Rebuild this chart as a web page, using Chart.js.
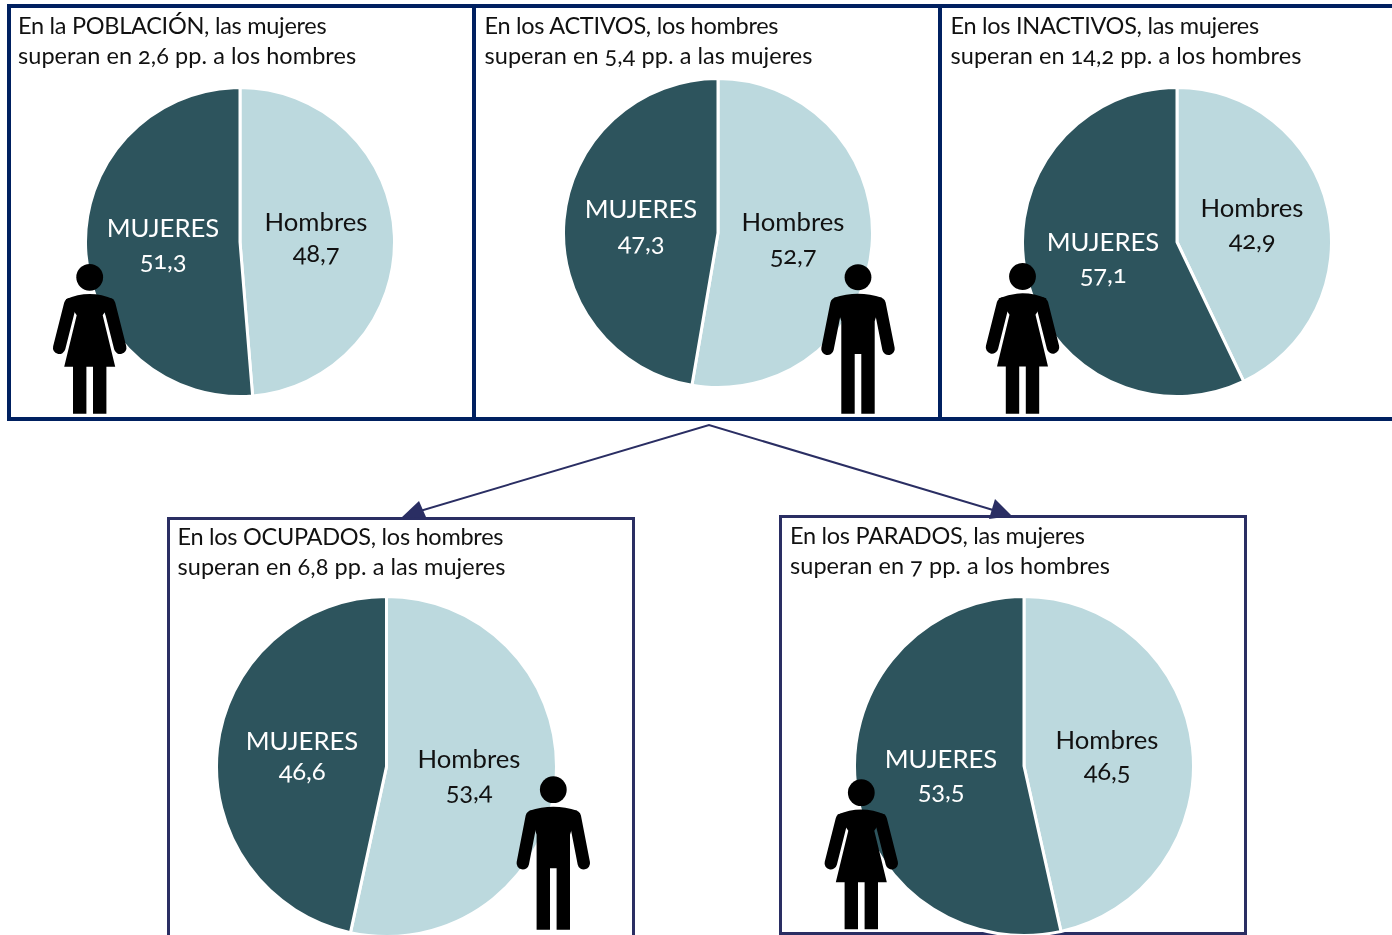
<!DOCTYPE html>
<html><head><meta charset="utf-8">
<script src="https://cdn.jsdelivr.net/npm/chart.js@4"></script>
<style>
html,body{margin:0;padding:0;background:#fff;width:1392px;height:935px;overflow:hidden}
body{position:relative;font-family:Lato,"Open Sans",sans-serif;font-feature-settings:"onum";font-variant-numeric:oldstyle-nums}
.frame{position:absolute;box-sizing:border-box;background:transparent}
.frame.top{border:4px solid #002060}
.frame.bot{border:3px solid #2A2E63}
canvas{position:absolute}
.t{position:absolute;white-space:nowrap;font-size:23.5px;line-height:30px;color:#111}
.t span{display:block}
.t span:first-child{letter-spacing:-0.28px}
.t span:last-child{letter-spacing:0.05px}
.l{position:absolute;white-space:nowrap;font-size:25.7px;line-height:30px;transform:translate(-50%,-50%);text-align:center}
.l.n{letter-spacing:-0.2px}
svg{position:absolute;left:0;top:0}
</style></head><body>
<svg width="1392" height="935" style="z-index:1">
  <polyline points="420,511 709,425 993,510" fill="none" stroke="#2A2E63" stroke-width="2"/>
  <polygon points="401,518 419,501 426,517" fill="#2A2E63"/>
  <polygon points="989,519 995,499 1012,516" fill="#2A2E63"/>
</svg>
<script>
const categories = ['Hombres', 'MUJERES'];
const poblacion = [48.7, 51.3];
const activos = [52.7, 47.3];
const inactivos = [42.9, 57.1];
const ocupados = [53.4, 46.6];
const parados = [46.5, 53.5];
const titlePoblacion = ['En la POBLACIÓN, las mujeres', 'superan en 2,6 pp. a los hombres'];
const titleActivos = ['En los ACTIVOS, los hombres', 'superan en 5,4 pp. a las mujeres'];
const titleInactivos = ['En los INACTIVOS, las mujeres', 'superan en 14,2 pp. a los hombres'];
const titleOcupados = ['En los OCUPADOS, los hombres', 'superan en 6,8 pp. a las mujeres'];
const titleParados = ['En los PARADOS, las mujeres', 'superan en 7 pp. a los hombres'];
const colors = ['#BCD9DE', '#2D545D'];

const panels = [
 {values:poblacion,title:titlePoblacion,cx:240,cy:242,size:312,tx:18,ty:10,
  lab:[[316,221,251.5],[163,227,258.5]],fig:['w',89.7,277.3,1],frame:[7,4,469,417,'top']},
 {values:activos,title:titleActivos,cx:718,cy:233,size:312,tx:484.5,ty:10,
  lab:[[793,221,253.5],[641,208,240.5]],fig:['m',858,277.3,0.975],frame:[472,4,470,417,'top']},
 {values:inactivos,title:titleInactivos,cx:1177,cy:242,size:312,tx:950.5,ty:10,
  lab:[[1252,207,238.5],[1103,241,272.5]],fig:['w',1022.5,276.5,1.005],frame:[938,4,470,417,'top']},
 {values:ocupados,title:titleOcupados,cx:386.5,cy:767,size:343,tx:177.5,ty:521,
  lab:[[469,758,790],[302,740,770]],fig:['m',553.3,789.7,1],frame:[167,517,468,440,'bot']},
 {values:parados,title:titleParados,cx:1024,cy:766,size:342,tx:790,ty:520,
  lab:[[1107,739,769.5],[941,758,789]],fig:['w',861.3,792.7,1],frame:[779,515,468,420,'bot']}
];
const body = document.body;
function add(tag, cls, css, txt){const e=document.createElement(tag); if(cls)e.className=cls; e.style.cssText=css; if(txt!==undefined)e.textContent=txt; body.appendChild(e); return e;}
const womanPath='M-24,22Q-12,16.7 0,16.7Q12,16.7 24,22L13,38L25.5,89.5L16.7,89.5L16.7,136.5L3.3,136.5L3.3,89.5L-3.3,89.5L-3.3,136.5L-16.7,136.5L-16.7,89.5L-25.5,89.5L-13,38Z';
const manPath='M-24,21Q-12,17 0,17Q12,17 24,21L16.7,45L16.7,140L3.3,140L3.3,78.6L-3.3,78.6L-3.3,140L-16.7,140L-16.7,45Z';
panels.forEach(p=>{
  const [fx,fy,fw,fh,kind]=p.frame;
  add('div','frame '+kind,`left:${fx}px;top:${fy}px;width:${fw}px;height:${fh}px;z-index:0`);
  const size=p.size;
  const cv=add('canvas','',`left:${Math.floor(p.cx-size/2)}px;top:${Math.floor(p.cy-size/2)}px;width:${size}px;height:${size}px;z-index:2`);
  cv.width=size;cv.height=size;
  new Chart(cv,{type:'pie',data:{labels:categories,datasets:[{data:p.values,backgroundColor:colors,borderColor:'#fff',borderWidth:3}]},
    options:{responsive:false,animation:false,devicePixelRatio:1,layout:{padding:0},plugins:{legend:{display:false},tooltip:{enabled:false}}}});
  const t=add('div','t',`left:${p.tx}px;top:${p.ty}px;z-index:4`);
  p.title.forEach(line=>{const s=document.createElement('span');s.textContent=line;t.appendChild(s);});
  categories.forEach((c,i)=>{
    const col=i===1?'#fff':'#111';
    add('div','l',`left:${p.lab[i][0]}px;top:${p.lab[i][1]}px;color:${col};z-index:4`,c);
    add('div','l n',`left:${p.lab[i][0]}px;top:${p.lab[i][2]}px;color:${col};z-index:4`,String(p.values[i]).replace('.',','));
  });
  const [k,hx,hy,sy]=p.fig;
  const ns='http://www.w3.org/2000/svg';
  const s=document.createElementNS(ns,'svg');
  s.setAttribute('width','1392');s.setAttribute('height','935');s.style.zIndex=3;
  const arm=k==='w'?[[-19.5,27,-30.5,70.5],[19.5,27,30.5,70.5]]:[[-21.5,27,-30.5,73.5],[21.5,27,30.5,73.5]];
  let inner=`<g transform="translate(${hx},${hy}) scale(1,${sy})" fill="#000" stroke="none"><circle r="13.4"/><path d="${k==='w'?womanPath:manPath}"/>`;
  arm.forEach(a=>{inner+=`<line x1="${a[0]}" y1="${a[1]}" x2="${a[2]}" y2="${a[3]}" stroke="#000" stroke-width="12.5" stroke-linecap="round"/>`;});
  s.innerHTML=inner+'</g>';
  body.appendChild(s);
});
</script>
</body></html>
